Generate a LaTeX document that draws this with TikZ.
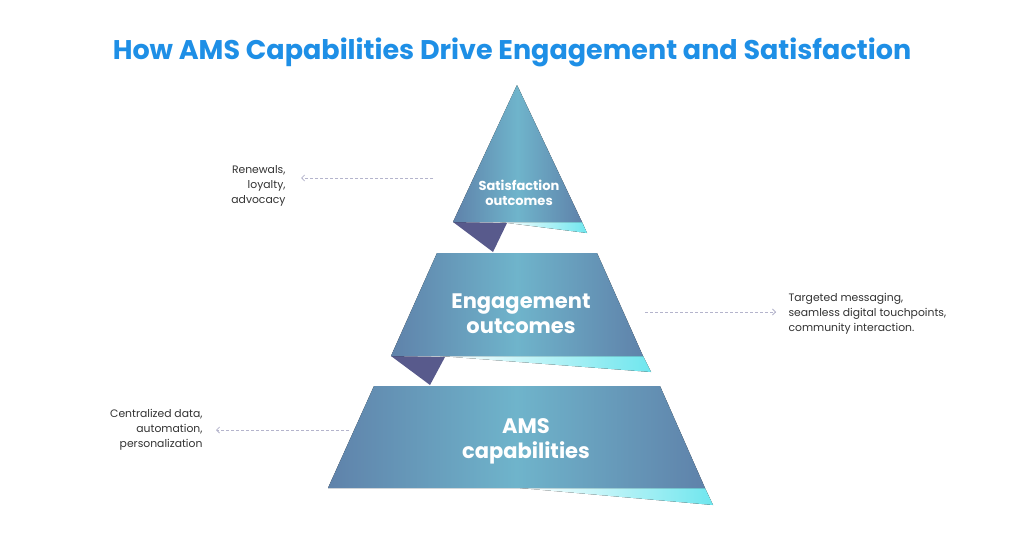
\documentclass[tikz,border=0pt]{standalone}
\usepackage{fontspec}
\setmainfont{Poppins}
\usetikzlibrary{positioning,arrows.meta}
\definecolor{titleblue}{HTML}{1E8FE6}
\definecolor{tierdark}{HTML}{5F82AA}
\definecolor{tierlight}{HTML}{6FB4CB}
\definecolor{folddark}{HTML}{585A8C}
\definecolor{stripcyan}{HTML}{6FE6EE}
\definecolor{dashgray}{HTML}{B4B4CC}
\definecolor{notegray}{HTML}{333333}
\tikzset{
  tier/.style={left color=tierdark,right color=tierdark,middle color=tierlight},
  fold/.style={fill=folddark},
  strip/.style={left color=white,right color=stripcyan},
  tiertext/.style={text=white,align=center},
  note/.style={text=notegray,font=\fontsize{10.8}{15}\selectfont},
  link/.style={dashgray,densely dashed,line width=0.8pt,-{Straight Barb[length=3pt]}}
}
\begin{document}
\begin{tikzpicture}[x=1pt,y=-1pt]
\useasboundingbox (0,0) rectangle (1024,536);
\fill[white] (0,0) rectangle (1024,536);

\node[text=titleblue,font=\fontsize{27}{30}\selectfont\bfseries] (title) at (512,52)
  {How AMS Capabilities Drive Engagement and Satisfaction};

% top tier
\fill[strip] (500,222) -- (582,222) -- (587,233) -- cycle;
\fill[fold] (453,222) -- (507,223) -- (493,252) -- cycle;
\fill[tier] (517,85) -- (582,222) -- (453,222) -- cycle;
\node[tiertext,font=\fontsize{13}{15.5}\selectfont\bfseries] (sat) at (519,193) {Satisfaction\\outcomes};

% middle tier
\fill[strip] (440,356) -- (643,356) -- (651,372) -- cycle;
\fill[fold] (391,356) -- (445,357) -- (430,385) -- cycle;
\fill[tier] (437,253) -- (597,253) -- (643,356) -- (391,356) -- cycle;
\node[tiertext,font=\fontsize{21}{25}\selectfont\bfseries] (eng) at (521,314) {Engagement\\outcomes};

% bottom tier
\fill[strip] (520,488) -- (705,488) -- (713,505) -- cycle;
\fill[tier] (374,386) -- (660,386) -- (705,488) -- (328,488) -- cycle;
\node[tiertext,font=\fontsize{21}{25}\selectfont\bfseries] (ams) at (526,441) {AMS\\capabilities};

% notes
\node[note,align=right,anchor=east] (renew) at (289,186) {Renewals,\\loyalty,\\advocacy};
\node[note,align=left,anchor=west] (target) at (785,314) {Targeted messaging,\\seamless digital touchpoints,\\community interaction.};
\node[note,align=right,anchor=east] (central) at (206,430) {Centralized data,\\automation,\\personalization};

\coordinate (satend) at (433,178);
\coordinate (renewend) at (301,178);
\coordinate (engend) at (645,312);
\coordinate (targetend) at (776,312);
\coordinate (amsend) at (349,430);
\coordinate (centralend) at (216,430);
\draw[link] (satend) -- (renewend);
\draw[link] (engend) -- (targetend);
\draw[link] (amsend) -- (centralend);
\end{tikzpicture}
\end{document}
